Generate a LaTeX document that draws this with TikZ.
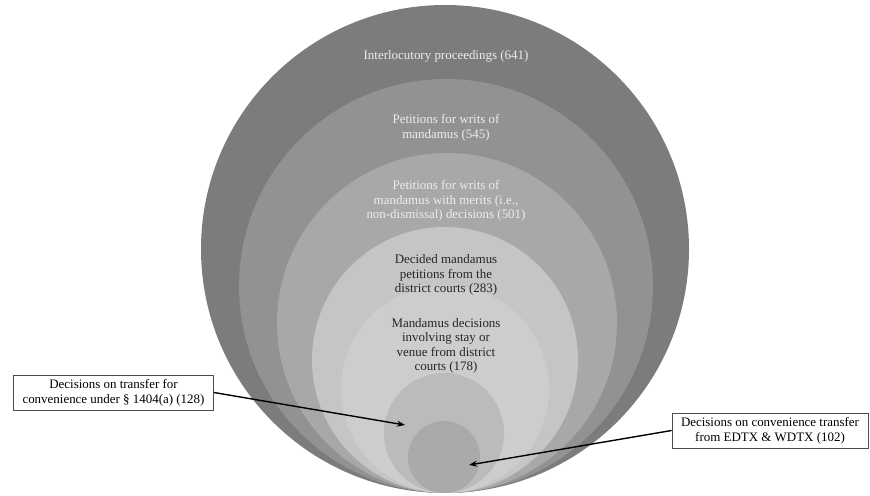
\documentclass[tikz,border=0pt]{standalone}
\usepackage{fontspec}
\setmainfont{Liberation Serif}
\usetikzlibrary{arrows.meta}
\definecolor{ringa}{HTML}{7C7C7C}
\definecolor{ringb}{HTML}{929292}
\definecolor{ringc}{HTML}{A8A8A8}
\definecolor{ringd}{HTML}{C5C5C5}
\definecolor{ringe}{HTML}{CDCDCD}
\definecolor{ringf}{HTML}{BBBBBB}
\definecolor{ringg}{HTML}{AAAAAA}
\tikzset{
  lbl/.style={align=center, font=\fontsize{13}{14.5}\selectfont, inner sep=0pt},
  light/.style={lbl, text=white!93!black},
  dark/.style={lbl, text=black!85},
  callout/.style={draw=black!70, line width=0.8pt, fill=white, align=center,
    font=\fontsize{13}{15}\selectfont, inner xsep=9bp, inner ysep=4bp},
  pointer/.style={-{Stealth[length=8bp,width=6bp]}, line width=1.4pt}
}
\begin{document}
\begin{tikzpicture}[x=1bp,y=-1bp]
  \useasboundingbox (0,0) rectangle (870,496);
  % nested circles, all touching at the bottom
  \fill[ringa] (445,249) circle (244);
  \fill[ringb] (446,286) circle (207);
  \fill[ringc] (447,323) circle (170);
  \fill[ringd] (445,360) circle (133);
  \fill[ringe] (445,389) circle (104);
  \fill[ringf] (444,433) circle (60);
  \fill[ringg] (444,457) circle (36);
  % labels inside the circles
  \node[light] (t641) at (446,56) {Interlocutory proceedings (641)};
  \node[light] (t545) at (446,128) {Petitions for writs of\\mandamus (545)};
  \node[light] (t501) at (446,201) {Petitions for writs of\\mandamus with merits (i.e.,\\non-dismissal) decisions (501)};
  \node[dark] (t283) at (446,275) {Decided mandamus\\petitions from the\\district courts (283)};
  \node[dark] (t178) at (446,346) {Mandamus decisions\\involving stay or\\venue from district\\courts (178)};
  % call-outs
  \node[callout] (b128) at (113.5,392.5) {Decisions on transfer for\\convenience under § 1404(a) (128)};
  \node[callout] (b102) at (770,430.5) {Decisions on convenience transfer\\from EDTX \& WDTX (102)};
  \coordinate (p128) at (405,425);
  \coordinate (p102) at (469,465);
  \draw[pointer] (b128.east) -- (p128);
  \draw[pointer] (b102.west) -- (p102);
\end{tikzpicture}
\end{document}
